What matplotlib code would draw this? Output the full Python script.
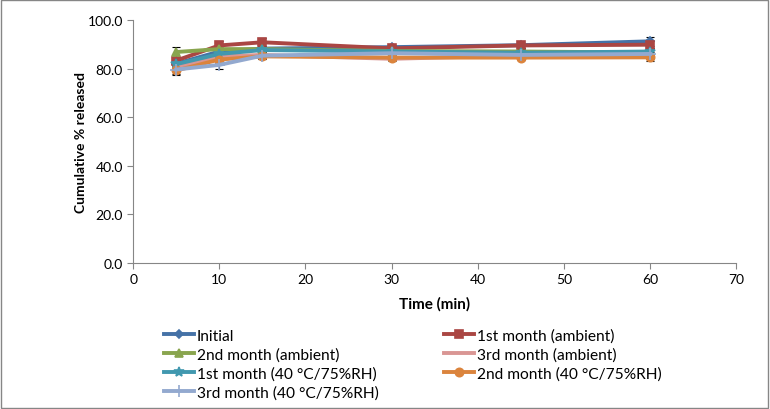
import numpy as np
import matplotlib.pyplot as plt

plt.rcParams['font.family'] = ['Lato', 'DejaVu Sans']

# время отбора проб (мин)
time_min = [5, 10, 15, 30, 45, 60]

# кумулятивный % высвобождения
initial      = [82.0, 87.0, 88.2, 88.8, 89.6, 91.2]
m1_ambient   = [83.3, 89.5, 90.8, 88.3, 89.5, 89.8]
m2_ambient   = [86.8, 88.0, 88.0, 87.2, 87.0, 86.6]
m3_ambient   = [80.5, 85.0, 85.6, 84.0, 85.4, 85.3]
m1_stress    = [81.8, 86.0, 87.6, 87.0, 86.5, 87.0]
m2_stress    = [79.2, 83.7, 85.0, 84.5, 84.5, 84.6]
m3_stress    = [79.6, 81.5, 85.3, 86.3, 85.6, 86.0]

# стандартные отклонения
err_initial    = [1.5, 1.5, 1.2, 1.0, 1.0, 1.8]
err_m1_ambient = [1.5, 2.0, 1.8, 1.0, 1.0, 1.5]
err_m2_ambient = [2.2, 1.5, 1.2, 1.0, 1.0, 1.5]
err_m3_ambient = [1.5, 1.5, 1.2, 1.0, 1.0, 1.5]
err_m1_stress  = [1.5, 1.5, 1.2, 1.0, 1.0, 1.5]
err_m2_stress  = [2.0, 1.5, 1.2, 1.0, 1.0, 1.5]
err_m3_stress  = [1.8, 1.8, 1.2, 1.0, 1.0, 1.5]

labels = ["Initial", "1st month (ambient)", "2nd month (ambient)",
          "3rd month (ambient)", "1st month (40 °C/75%RH)",
          "2nd month (40 °C/75%RH)", "3rd month (40 °C/75%RH)"]

series = [initial, m1_ambient, m2_ambient, m3_ambient,
          m1_stress, m2_stress, m3_stress]
errors = [err_initial, err_m1_ambient, err_m2_ambient, err_m3_ambient,
          err_m1_stress, err_m2_stress, err_m3_stress]

colors  = ['#4572A7', '#AA4643', '#89A54E', '#D99694',
           '#4198AF', '#DB843D', '#93A9CF']
markers = ['D', 's', '^', None, '*', 'o', '+']
msizes  = [4, 6, 6, 0, 7, 6, 8]

fig = plt.figure(figsize=(7.7, 4.1), dpi=100)
ax = fig.add_axes([0.173, 0.356, 0.783, 0.593])

handles = []
for y, e, c, mk, ms, lab in zip(series, errors, colors, markers, msizes, labels):
    ax.errorbar(time_min, y, yerr=e, fmt='none', ecolor='black',
                elinewidth=0.8, capsize=3, capthick=0.8, zorder=2)
    h, = ax.plot(time_min, y, color=c, lw=2.8, marker=mk, markersize=ms,
                 markeredgecolor=c, markeredgewidth=1.2, label=lab, zorder=3)
    handles.append(h)

ax.set_xlim(0, 70)
ax.set_ylim(0, 100)
ax.set_xticks(np.arange(0, 71, 10))
ax.set_yticks(np.arange(0, 101, 20))
ax.set_yticklabels([f"{v:.1f}" for v in np.arange(0, 101, 20)])

for s in ['top', 'right']:
    ax.spines[s].set_visible(False)
for s in ['left', 'bottom']:
    ax.spines[s].set_color('#868686')
    ax.spines[s].set_linewidth(0.8)
ax.tick_params(direction='out', length=4, color='#868686', labelsize=10)

ax.set_xlabel("Time (min)", fontsize=11, fontweight='bold', labelpad=8)
ax.set_ylabel("Cumulative % released", fontsize=10, fontweight='bold', labelpad=0)

# порядок как в легенде Excel (по строкам)
order = [0, 2, 4, 6, 1, 3, 5]
fig.legend(handles=[handles[i] for i in order], loc='upper left',
           bbox_to_anchor=(0.205, 0.212),
           ncol=2, frameon=False, fontsize=11.2, handlelength=1.95,
           handletextpad=0.15, columnspacing=4.2, labelspacing=0.3,
           borderaxespad=0)

# рамка области диаграммы
fig.patches.append(plt.Rectangle((0.001, 0.002), 0.997, 0.995, transform=fig.transFigure,
                                 fill=False, edgecolor='#868686', lw=1))

plt.savefig("out.png", dpi=100)
